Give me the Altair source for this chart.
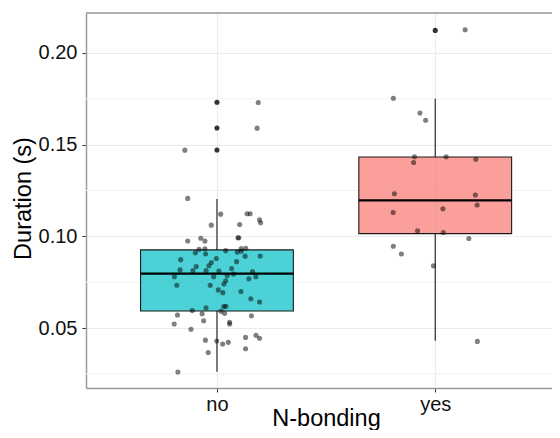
import altair as alt
import pandas as pd

categories = ["no", "yes"]
box_colors = ["#00BFC4", "#F8766D"]

# box statistics
whisker_low = [0.0261, 0.0431]
q1 = [0.0593, 0.1015]
median = [0.0797, 0.1196]
q3 = [0.0926, 0.1433]
whisker_high = [0.1203, 0.1751]

# outliers
outlier_group = ["no", "no", "no", "yes"]
outlier_values = [0.1731, 0.1591, 0.1471, 0.2123]

# jittered observations
no_values = [0.173, 0.159, 0.147, 0.1207, 0.1121, 0.1123, 0.1123, 0.1090, 0.1074, 0.1061,
             0.1065, 0.0975, 0.0990, 0.0974, 0.0992, 0.0992, 0.0910, 0.0930, 0.0932, 0.0904,
             0.0922, 0.0914, 0.0933, 0.0919, 0.0935, 0.0892, 0.0893, 0.0873, 0.0879, 0.0857,
             0.0840, 0.0862, 0.0835, 0.0813, 0.0817, 0.0813, 0.0811, 0.0824, 0.0795, 0.0808,
             0.0780, 0.0780, 0.0786, 0.0780, 0.0769, 0.0758, 0.0733, 0.0733, 0.0740, 0.0708,
             0.0693, 0.0699, 0.0660, 0.0642, 0.0611, 0.0617, 0.0619, 0.0595, 0.0591, 0.0580,
             0.0571, 0.0578, 0.0567, 0.0522, 0.0540, 0.0531, 0.0522, 0.0493, 0.0434, 0.0429,
             0.0413, 0.0422, 0.0449, 0.0460, 0.0444, 0.0387, 0.0367, 0.0260]
no_jitter = [0.189, 0.184, -0.147, -0.134, 0.017, 0.138, 0.152, 0.195, 0.200, -0.026,
             0.104, -0.134, -0.074, -0.055, 0.096, 0.100, -0.099, -0.082, -0.055, -0.052,
             0.040, 0.093, 0.111, 0.111, 0.132, 0.129, 0.198, -0.166, -0.003, -0.026,
             -0.037, 0.090, -0.095, -0.110, -0.169, -0.050, 0.009, 0.067, 0.076, 0.163,
             -0.195, -0.015, 0.047, 0.178, 0.146, 0.040, -0.184, -0.031, 0.032, 0.006,
             0.027, 0.110, 0.155, 0.195, -0.050, 0.031, 0.041, -0.113, 0.018, 0.035,
             -0.181, -0.068, 0.158, -0.196, -0.061, 0.058, 0.058, -0.119, -0.053, -0.001,
             0.026, 0.052, 0.131, 0.179, 0.195, 0.131, -0.040, -0.179]

yes_values = [0.2127, 0.1753, 0.1673, 0.1633, 0.1434, 0.1403, 0.1434, 0.1420, 0.1232, 0.1225,
              0.1130, 0.1150, 0.1171, 0.1030, 0.1021, 0.0988, 0.0946, 0.0904, 0.0839, 0.0427]
yes_jitter = [0.137, -0.192, -0.070, -0.044, -0.095, -0.099, 0.050, 0.186, -0.187, 0.184,
              -0.193, 0.035, 0.192, -0.081, 0.037, 0.154, -0.192, -0.155, -0.008, 0.193]

y_ticks = [0.05, 0.10, 0.15, 0.20]
y_minor = [0.025, 0.075, 0.125, 0.175]

FONT = "Liberation Sans"
W, H = 466, 375
X_DOM = [0.4, 2.535]
Y_DOM = [0.0173, 0.2218]

box_df = pd.DataFrame({
    "group": categories, "pos": [1, 2],
    "lo": whisker_low, "q1": q1, "med": median, "q3": q3, "hi": whisker_high,
})
pts_df = pd.DataFrame({
    "group": ["no"] * len(no_values) + ["yes"] * len(yes_values),
    "value": no_values + yes_values,
    "jit": no_jitter + yes_jitter,
})
pts_df["pos"] = pts_df["group"].map({c: i + 1 for i, c in enumerate(categories)}) + pts_df["jit"]
out_df = pd.DataFrame({"group": outlier_group, "value": outlier_values})
out_df["pos"] = out_df["group"].map({c: i + 1 for i, c in enumerate(categories)})
minor_df = pd.DataFrame({"y": y_minor})

label_expr = "[" + ",".join("'%s'" % c for c in categories) + "][datum.value - 1]"

xax = alt.Axis(values=[1, 2], labelExpr=label_expr, title="N-bonding",
               grid=True, gridColor="#ebebeb", gridWidth=1.1,
               domainColor="#9a9a9a", domainWidth=1.5,
               tickColor="#333333", tickSize=4, tickWidth=1,
               labelFont=FONT, labelFontSize=20, labelColor="#111111",
               labelBaseline="alphabetic", labelPadding=18.5,
               titleFont=FONT, titleFontSize=23.5, titleFontWeight="normal",
               titleColor="#000000", titleX=240, titleY=37,
               titleBaseline="alphabetic", titleAlign="center")
yax = alt.Axis(values=y_ticks, format=".2f", title="Duration (s)",
               grid=True, gridColor="#ebebeb", gridWidth=1.1,
               domainColor="#9a9a9a", domainWidth=1.5,
               tickColor="#333333", tickSize=4, tickWidth=1,
               labelFont=FONT, labelFontSize=20, labelColor="#111111",
               labelPadding=5,
               titleFont=FONT, titleFontSize=23.5, titleFontWeight="normal",
               titleColor="#000000", titleAngle=270, titleX=-56, titleY=185,
               titleBaseline="alphabetic", titleAlign="center")

xs = alt.Scale(domain=X_DOM, nice=False, zero=False)
ys = alt.Scale(domain=Y_DOM, nice=False, zero=False)

minor = alt.Chart(minor_df).mark_rule(color="#f2f2f2", strokeWidth=1).encode(
    y=alt.Y("y:Q", scale=ys, axis=yax))

base_box = alt.Chart(box_df)
whisk_lo = base_box.mark_rule(color="#1a1a1a", strokeWidth=1.1).encode(
    x=alt.X("pos:Q", scale=xs, axis=xax), y=alt.Y("lo:Q", scale=ys, axis=yax), y2="q1:Q")
whisk_hi = base_box.mark_rule(color="#1a1a1a", strokeWidth=1.1).encode(
    x=alt.X("pos:Q", scale=xs, axis=xax), y=alt.Y("q3:Q", scale=ys, axis=yax), y2="hi:Q")
rect = base_box.transform_calculate(
    xl="datum.pos - 0.35", xr="datum.pos + 0.35"
).mark_rect(fillOpacity=0.7, stroke="#1a1a1a", strokeWidth=1.1).encode(
    x=alt.X("xl:Q", scale=xs, axis=xax), x2="xr:Q",
    y=alt.Y("q1:Q", scale=ys, axis=yax), y2="q3:Q",
    fill=alt.Fill("group:N", scale=alt.Scale(domain=categories, range=box_colors), legend=None))
med = base_box.transform_calculate(
    xl="datum.pos - 0.35", xr="datum.pos + 0.35"
).mark_rule(color="#000000", strokeWidth=2.3).encode(
    x=alt.X("xl:Q", scale=xs, axis=xax), x2="xr:Q",
    y=alt.Y("med:Q", scale=ys, axis=yax))

outl = alt.Chart(out_df).mark_circle(size=26, color="#333333", opacity=1).encode(
    x=alt.X("pos:Q", scale=xs, axis=xax), y=alt.Y("value:Q", scale=ys, axis=yax))

pts = alt.Chart(pts_df).mark_circle(size=26, color="#000000", opacity=0.5).encode(
    x=alt.X("pos:Q", scale=xs, axis=xax), y=alt.Y("value:Q", scale=ys, axis=yax))

top_border = alt.Chart(pd.DataFrame({"a": [0]})).mark_rule(
    color="#9a9a9a", strokeWidth=1.5).encode(
    x=alt.value(0), x2=alt.value(W), y=alt.value(0))

chart = alt.layer(minor, whisk_lo, whisk_hi, rect, med, outl, pts, top_border).properties(
    width=W, height=H,
    autosize=alt.AutoSizeParams(type="none"),
    padding={"left": 78, "top": 5, "right": 0, "bottom": 42},
).configure_view(stroke=None).configure(background="white")

chart.save("out.html", embed_options={"renderer": "svg", "actions": False})
